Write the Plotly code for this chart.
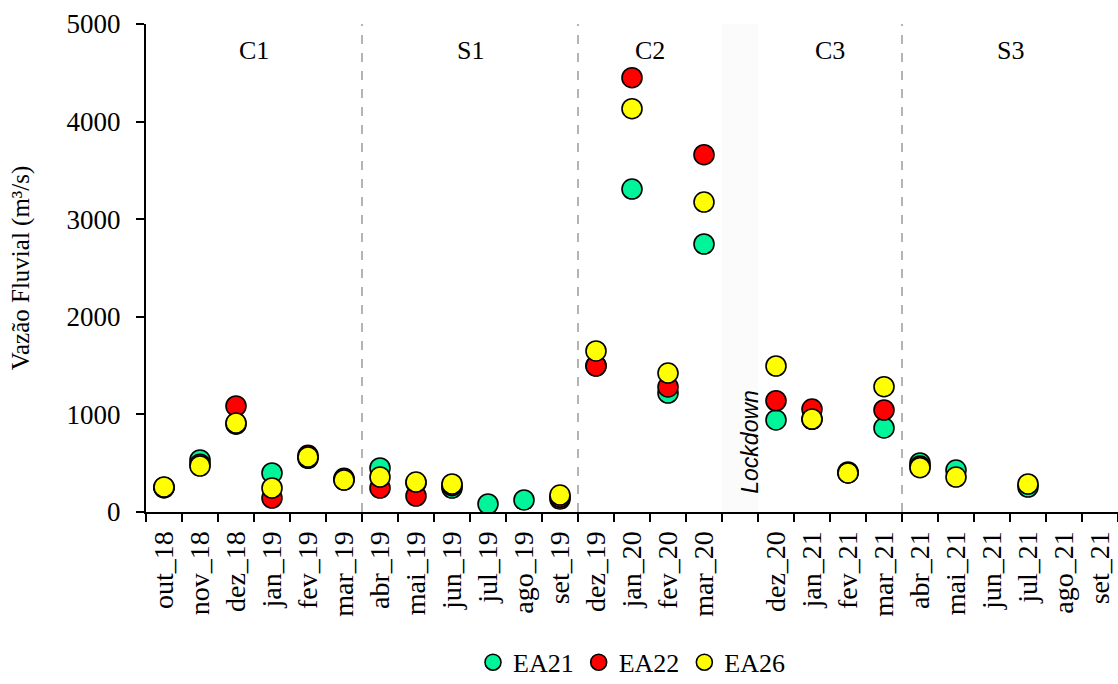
import plotly.graph_objects as go

months = ["out_18", "nov_18", "dez_18", "jan_19", "fev_19", "mar_19",
          "abr_19", "mai_19", "jun_19", "jul_19", "ago_19", "set_19",
          "dez_19", "jan_20", "fev_20", "mar_20", " ",
          "dez_20", "jan_21", "fev_21", "mar_21",
          "abr_21", "mai_21", "jun_21", "jul_21", "ago_21", "set_21"]

ea21 = [250, 533, 900, 400, 550, 330, 451, 300, 246, 82, 123, 133,
        1500, 3309, 1219, 2746, None,
        943, 950, 400, 861,
        502, 430, None, 256, None, None]
ea22 = [250, 490, 1086, 143, 580, 345, 246, 164, 270, None, None, 150,
        1496, 4450, 1281, 3661, None,
        1140, 1055, 410, 1045,
        470, None, None, None, None, None]
ea26 = [256, 471, 912, 246, 563, 328, 358, 307, 287, None, None, 174,
        1650, 4132, 1424, 3176, None,
        1496, 953, 400, 1284,
        454, 358, None, 287, None, None]

series = [("EA21", ea21, "#00F59B"), ("EA22", ea22, "#FF0000"), ("EA26", ea26, "#FFFF00")]

periods = ["C1", "S1", "C2", "C3", "S3"]
period_centers = [2.5, 8.5, 13.5, 18.5, 23.5]
divider_positions = [5.5, 11.5, 20.5]

SERIF = "Liberation Serif, Times New Roman, serif"

fig = go.Figure()
for name, vals, col in series:
    fig.add_trace(go.Scatter(
        x=months, y=vals, mode="markers", name=name,
        marker=dict(size=20, color=col, line=dict(color="black", width=1.6)),
    ))

# lockdown shading
fig.add_shape(type="rect", xref="x", yref="y", x0=15.5, x1=16.5, y0=0, y1=5000,
              fillcolor="#fbfbfb", line=dict(width=0), layer="below")
for xp in divider_positions:
    fig.add_shape(type="line", xref="x", yref="y", x0=xp, x1=xp, y0=0, y1=5000,
                  line=dict(color="#b4b4b4", width=2, dash="dash"), layer="below")

for lab, xc in zip(periods, period_centers):
    fig.add_annotation(x=xc, y=4730, xref="x", yref="y", text=lab, showarrow=False,
                       font=dict(family=SERIF, size=26, color="black"))

fig.add_annotation(x=16, y=720, xref="x", yref="y", text="Lockdown", showarrow=False,
                   textangle=-90, xshift=10,
                   font=dict(family="Liberation Sans, Arial, sans-serif", size=23,
                             color="black", style="italic"))

fig.update_layout(
    width=1118, height=684,
    margin=dict(l=146, r=0, t=24, b=172, autoexpand=False),
    paper_bgcolor="white", plot_bgcolor="white",
    font=dict(family=SERIF, size=27, color="black"),
    showlegend=True,
    legend=dict(orientation="h", x=0.5, xanchor="center", y=-0.308, yanchor="middle",
                font=dict(family=SERIF, size=26), itemwidth=30,
                tracegroupgap=0, bgcolor="rgba(0,0,0,0)"),
)
fig.update_xaxes(
    type="category", categoryorder="array", categoryarray=months,
    range=[-0.5, 26.5], tickson="boundaries", automargin=False,
    showline=True, linecolor="black", linewidth=2,
    ticks="outside", ticklen=8, tickwidth=1.5, tickcolor="black",
    tickangle=-90, tickfont=dict(family=SERIF, size=28), ticklabelstandoff=6,
    showgrid=False, zeroline=False,
)
fig.update_yaxes(
    range=[0, 5000], dtick=1000, tick0=0, automargin=False,
    showline=True, linecolor="black", linewidth=2,
    ticks="outside", ticklen=8, tickwidth=1.5, tickcolor="black",
    tickfont=dict(family=SERIF, size=27), ticklabelstandoff=10,
    showgrid=False, zeroline=False,
    title=dict(text="Vazão Fluvial (m³/s)", font=dict(family=SERIF, size=25), standoff=30),
)

fig.write_html("out.html")
